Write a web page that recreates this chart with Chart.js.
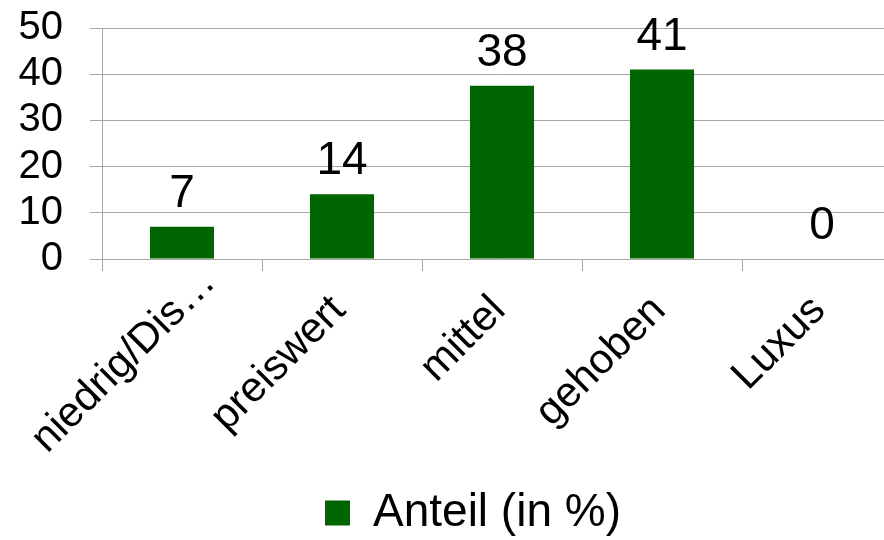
<!DOCTYPE html>
<html>
<head>
<meta charset="utf-8">
<script src="https://cdn.jsdelivr.net/npm/chart.js@4/dist/chart.umd.min.js"></script>
<style>
  html, body { margin: 0; padding: 0; background: #ffffff; overflow: hidden; }
  #wrap { width: 942px; height: 540px; }
</style>
</head>
<body>
<div id="wrap"><canvas id="c" width="942" height="540"></canvas></div>
<script>
const categories = ["niedrig/Dis…", "preiswert", "mittel", "gehoben", "Luxus"];
const seriesName = "Anteil (in %)";
const values = [7, 14, 37.5, 41, 0];
const yMin = 0, yMax = 50, yStep = 10;

const FONT = "'Liberation Sans', Arial, sans-serif";
const GREEN = "#006400";
const GRID = "#a6a6a6";

const valueLabels = {
  id: "valueLabels",
  afterDatasetsDraw(chart) {
    const ctx = chart.ctx;
    const meta = chart.getDatasetMeta(0);
    ctx.save();
    ctx.font = "46px " + FONT;
    ctx.fillStyle = "#000";
    ctx.textAlign = "center";
    ctx.textBaseline = "alphabetic";
    meta.data.forEach((bar, i) => {
      const v = chart.data.datasets[0].data[i];
      ctx.fillText(String(Math.round(v)), bar.x, bar.y - 20);
    });
    ctx.restore();
  }
};

const layoutTweaks = {
  id: "layoutTweaks",
  afterLayout(chart) {
    const l = chart.legend;
    if (l) { l.left += 13; l.right += 13; }
    const s = chart.scales.x;
    if (s && !s._firstShift && typeof s._computeLabelItems === "function") {
      const orig = s._computeLabelItems.bind(s);
      s._computeLabelItems = function (area) {
        const items = orig(area);
        if (items && items[0] && items[0].options && items[0].options.translation) {
          items[0].options.translation[0] += 30;
          items[0].options.translation[1] -= 28;
        }
        return items;
      };
      s._firstShift = true;
    }
  }
};

new Chart(document.getElementById("c"), {
  type: "bar",
  data: {
    labels: categories,
    datasets: [{
      label: seriesName,
      data: values,
      backgroundColor: GREEN,
      borderWidth: 0,
      barPercentage: 0.4,
      categoryPercentage: 1.0
    }]
  },
  options: {
    responsive: false,
    animation: false,
    devicePixelRatio: 1,
    layout: { padding: { left: 18, right: 40, top: 28, bottom: -6 } },
    plugins: {
      legend: {
        position: "bottom",
        labels: {
          color: "#000",
          font: { family: FONT, size: 46 },
          boxWidth: 25,
          boxHeight: 25,
          padding: 0
        }
      },
      tooltip: { enabled: false }
    },
    scales: {
      x: {
        offset: true,
        grid: {
          offset: true,
          drawOnChartArea: false,
          drawTicks: true,
          tickLength: 12,
          color: GRID,
          lineWidth: 1
        },
        border: { color: GRID, width: 1 },
        ticks: {
          color: "#000",
          font: { family: FONT, size: 42 },
          maxRotation: 45,
          minRotation: 45,
          autoSkip: false,
          padding: 15,
          labelOffset: -3
        },
        afterFit(scale) {
          scale.height = 231;
          scale.paddingLeft = 0;
          scale.paddingRight = 0;
        }
      },
      y: {
        min: yMin,
        max: yMax,
        grid: {
          color: GRID,
          lineWidth: 1,
          drawTicks: true,
          tickLength: 12
        },
        border: { color: GRID, width: 1 },
        ticks: {
          stepSize: yStep,
          autoSkip: false,
          color: "#000",
          font: { family: FONT, size: 40 },
          padding: 27
        },
        afterFit(scale) {
          scale.width = 84;
          scale.paddingTop = 0;
          scale.paddingBottom = 0;
        }
      }
    }
  },
  plugins: [valueLabels, layoutTweaks]
});
</script>
</body>
</html>
